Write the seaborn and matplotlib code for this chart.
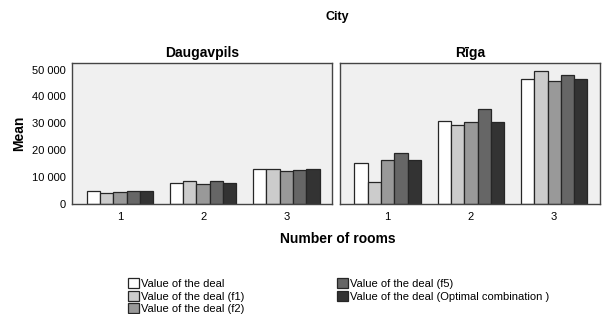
import pandas as pd
import matplotlib.pyplot as plt
import seaborn as sns
from matplotlib.ticker import FuncFormatter

cities = ['Daugavpils', 'Rīga']
rooms = ['1', '2', '3']
series = ['Value of the deal', 'Value of the deal (f1)', 'Value of the deal (f2)',
          'Value of the deal (f5)', 'Value of the deal (Optimal combination )']
colors = ['#ffffff', '#cccccc', '#999999', '#666666', '#333333']

# mean values per room count, one list per series
daug = {
    'Value of the deal': [4700, 7900, 13200],
    'Value of the deal (f1)': [4100, 8400, 13100],
    'Value of the deal (f2)': [4450, 7650, 12350],
    'Value of the deal (f5)': [4950, 8400, 12850],
    'Value of the deal (Optimal combination )': [4950, 7800, 13200],
}
riga = {
    'Value of the deal': [15450, 30900, 46550],
    'Value of the deal (f1)': [8250, 29400, 49500],
    'Value of the deal (f2)': [16400, 30500, 45800],
    'Value of the deal (f5)': [18900, 35200, 48000],
    'Value of the deal (Optimal combination )': [16300, 30500, 46550],
}

rows = []
for city, d in zip(cities, [daug, riga]):
    for s in series:
        for r, v in zip(rooms, d[s]):
            rows.append({'city': city, 'rooms': r, 'series': s, 'mean': v})
df = pd.DataFrame(rows)

sns.set_style('white')
plt.rcParams['font.family'] = ['Liberation Sans', 'DejaVu Sans']
plt.rcParams['text.color'] = 'black'
plt.rcParams['axes.labelcolor'] = 'black'
plt.rcParams['xtick.color'] = 'black'
plt.rcParams['ytick.color'] = 'black'

fig, axes = plt.subplots(1, 2, figsize=(6.03, 3.14), dpi=100, sharey=True)
fig.subplots_adjust(left=0.12, right=0.995, top=0.80, bottom=0.35, wspace=0.03)

for ax, city in zip(axes, cities):
    sub = df[df['city'] == city]
    sns.barplot(data=sub, x='rooms', y='mean', hue='series', hue_order=series,
                order=rooms, palette=colors, width=0.8, edgecolor='#262626',
                linewidth=0.9, ax=ax, legend=(city == cities[0]))
    ax.set_facecolor('#f0f0f0')
    ax.set_title(city, fontsize=10, fontweight='bold', pad=4)
    ax.set_xlabel('')
    ax.set_ylabel('')
    ax.set_xlim(-0.57, 2.55)
    ax.set_ylim(0, 52500)
    for sp in ax.spines.values():
        sp.set_color('#444444')
        sp.set_linewidth(1)
    ax.tick_params(axis='x', length=4, width=1, color='#333333', labelsize=8, pad=2)
    ax.tick_params(axis='y', length=4, width=1, color='#333333', labelsize=8, pad=1)

axes[0].set_yticks([0, 10000, 20000, 30000, 40000, 50000])
axes[0].yaxis.set_major_formatter(FuncFormatter(lambda v, p: f'{int(v):,}'.replace(',', ' ')))
axes[0].set_ylabel('Mean', fontsize=10, fontweight='bold', labelpad=4)
axes[1].tick_params(axis='y', length=0)

handles, labels = axes[0].get_legend_handles_labels()
axes[0].get_legend().remove()
for h in handles:
    h.set_edgecolor('#262626')
fig.legend(handles, labels, loc='lower left', bbox_to_anchor=(0.2, -0.025), ncol=2,
           frameon=False, fontsize=8, handlelength=1.0, handleheight=1.0,
           handletextpad=0.1, labelspacing=0.15, columnspacing=8.4, borderpad=0.2)

fig.text(0.56, 0.225, 'Number of rooms', ha='center', fontsize=10, fontweight='bold')
fig.text(0.56, 0.935, 'City', ha='center', fontsize=9, fontweight='bold')

plt.savefig('out.png', dpi=100)
